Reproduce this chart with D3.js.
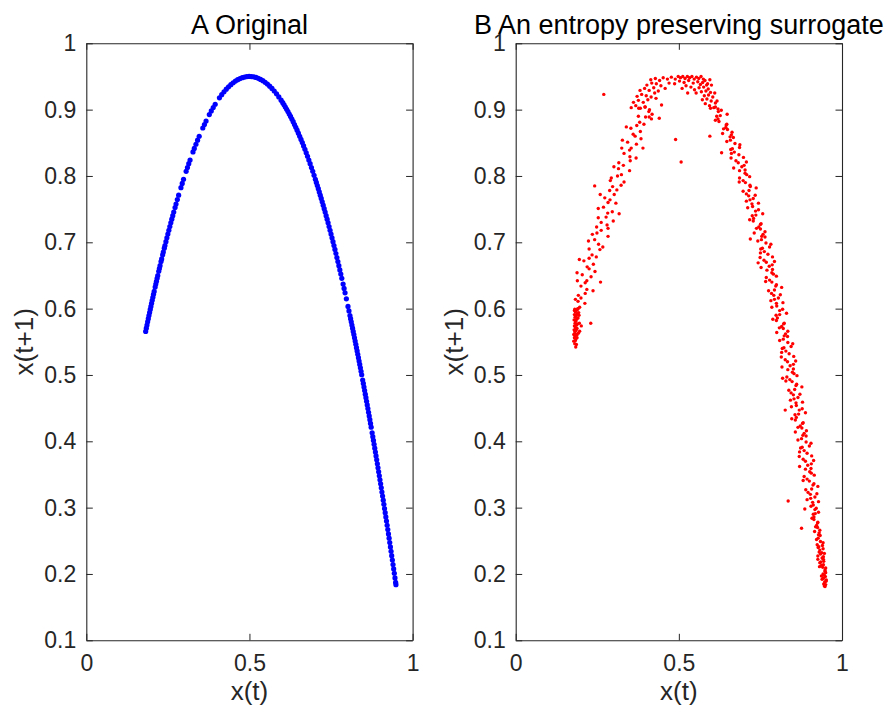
<!DOCTYPE html>
<html>
<head>
<meta charset="utf-8">
<script src="https://cdn.jsdelivr.net/npm/d3@7"></script>
<style>
  body { margin: 0; background: #fff; }
  text { font-family: "Liberation Sans", Arial, Helvetica, sans-serif; }
</style>
</head>
<body>
<div id="container"></div>
<script>
/* DATA */
const titles = ["A Original", "B An entropy preserving surrogate"];
const xLabel = "x(t)";
const yLabel = "x(t+1)";
const xTicks = [0, 0.5, 1];
const yTicks = [0.1, 0.2, 0.3, 0.4, 0.5, 0.6, 0.7, 0.8, 0.9, 1];

// panel A: points (x(t), x(t+1))
const originalPts = [
  [.182,.5657],[.184,.5705],[.186,.5753],[.188,.5801],[.190,.5848],[.192,.5895],[.194,.5942],[.196,.5988],[.198,.6034],[.200,.6080],
  [.202,.6125],[.204,.6171],[.206,.6215],[.208,.6260],[.211,.6326],[.213,.6370],[.215,.6413],[.217,.6457],[.219,.6499],[.222,.6563],
  [.224,.6605],[.226,.6647],[.229,.6709],[.231,.6750],[.234,.6811],[.236,.6852],[.239,.6911],[.241,.6951],[.244,.7010],[.247,.7068],
  [.250,.7125],[.253,.7182],[.256,.7238],[.259,.7293],[.262,.7348],[.265,.7401],[.268,.7455],[.272,.7525],[.275,.7576],[.279,.7644],
  [.283,.7711],[.290,.7824],[.294,.7887],[.298,.7949],[.306,.8070],[.310,.8128],[.314,.8185],[.318,.8241],[.327,.8363],[.331,.8415],
  [.336,.8478],[.341,.8539],[.346,.8599],[.357,.8723],[.362,.8776],[.367,.8828],[.377,.8925],[.383,.8980],[.389,.9032],[.395,.9081],
  [.408,.9178],[.415,.9225],[.422,.9269],[.429,.9308],[.436,.9344],[.443,.9377],[.450,.9405],[.457,.9430],[.464,.9451],[.471,.9468],
  [.478,.9482],[.485,.9491],[.492,.9498],[.499,.9500],
  [.506,.9499],[.513,.9494],[.520,.9485],[.527,.9472],[.534,.9456],[.541,.9436],[.548,.9412],[.555,.9385],[.562,.9354],[.569,.9319],
  [.576,.9281],[.583,.9238],[.590,.9192],[.597,.9142],[.602,.9105],[.606,.9073],[.610,.9040],[.614,.9006],[.618,.8971],[.622,.8934],
  [.626,.8897],[.630,.8858],[.634,.8818],[.638,.8776],[.642,.8734],[.646,.8690],[.650,.8645],[.654,.8599],[.658,.8551],[.662,.8503],
  [.666,.8453],[.670,.8402],[.674,.8350],[.678,.8296],[.682,.8241],[.686,.8185],[.690,.8128],[.694,.8070],[.698,.8010],[.702,.7949],
  [.705,.7903],[.708,.7856],[.711,.7808],[.714,.7760],[.717,.7711],[.720,.7661],[.723,.7610],[.726,.7559],[.729,.7507],[.732,.7455],
  [.735,.7401],[.738,.7348],[.741,.7293],[.744,.7238],[.747,.7182],[.750,.7125],[.753,.7068],[.756,.7010],[.759,.6951],[.762,.6892],
  [.765,.6831],[.768,.6771],[.771,.6709],[.774,.6647],[.777,.6584],[.780,.6521],[.783,.6457],[.787,.6370],[.790,.6304],[.793,.6238],
  [.797,.6148],[.802,.6034],[.805,.5965],[.808,.5895],[.810,.5848],[.812,.5801],[.814,.5753],[.816,.5705],[.818,.5657],[.820,.5609],
  [.822,.5560],[.824,.5511],[.826,.5462],[.828,.5412],[.830,.5362],[.832,.5311],[.834,.5261],[.836,.5210],[.838,.5159],[.840,.5107],
  [.842,.5055],[.844,.5003],[.847,.4924],[.849,.4872],[.851,.4818],[.853,.4765],[.855,.4711],[.857,.4657],[.859,.4603],[.861,.4548],
  [.863,.4493],[.865,.4437],[.867,.4382],[.869,.4326],[.871,.4270],[.873,.4213],[.876,.4128],[.878,.4070],[.880,.4013],[.882,.3955],
  [.884,.3897],[.886,.3838],[.888,.3779],[.890,.3720],[.892,.3661],[.894,.3601],[.896,.3541],[.898,.3481],[.900,.3420],[.902,.3359],
  [.904,.3298],[.906,.3236],[.908,.3174],[.910,.3112],[.912,.3050],[.914,.2987],[.916,.2924],[.918,.2860],[.920,.2797],[.922,.2733],
  [.924,.2669],[.926,.2604],[.928,.2539],[.930,.2474],[.932,.2408],[.934,.2342],[.936,.2276],[.938,.2210],[.940,.2143],[.942,.2076],
  [.944,.2009],[.946,.1941],[.948,.1873],[.949,.1839]
];

// panel B: surrogate scatter, read region by region
const surrogatePts = [
  // bottom-left cluster
  [.184,.542],[.181,.547],[.178,.551],[.183,.552],[.180,.556],[.185,.555],[.182,.559],[.178,.561],[.184,.562],[.187,.560],
  [.181,.565],[.179,.568],[.185,.567],[.183,.571],[.188,.570],[.180,.574],[.186,.575],[.182,.578],[.189,.577],[.184,.581],
  [.179,.583],[.187,.584],[.182,.587],[.191,.586],[.185,.589],[.180,.591],[.188,.592],[.183,.595],[.193,.594],[.186,.597],
  [.181,.599],[.190,.599],[.195,.578],[.201,.574],[.230,.578],[.196,.566],[.192,.563],[.186,.546],[.194,.590],[.188,.556],
  // left branch
  [.180,.597],[.196,.602],[.190,.600],[.191,.611],[.212,.608],[.183,.614],[.192,.620],[.213,.623],[.200,.616],
  [.237,.627],[.200,.634],[.218,.629],[.213,.639],[.218,.642],[.189,.642],[.204,.651],[.231,.648],[.188,.654],
  [.225,.660],[.243,.656],[.219,.663],[.195,.674],[.238,.667],[.209,.672],[.225,.676],[.234,.681],[.247,.678],
  [.258,.689],[.225,.690],[.267,.693],[.223,.702],[.254,.697],[.242,.704],[.249,.714],[.283,.709],[.235,.712],
  [.248,.723],[.283,.721],[.262,.718],[.299,.732],[.262,.730],[.280,.726],[.277,.738],[.282,.744],[.253,.737],
  [.269,.753],[.296,.746],[.253,.751],[.289,.764],[.307,.759],[.283,.760],[.259,.772],[.302,.772],[.273,.767],
  [.288,.778],[.297,.784],[.310,.779],[.323,.786],[.290,.793],[.332,.791],[.293,.797],[.324,.802],[.312,.800],
  [.315,.811],[.349,.808],[.301,.814],[.316,.820],[.351,.823],[.330,.816],[.369,.827],[.332,.834],[.350,.829],
  [.349,.839],[.354,.842],[.325,.842],[.343,.851],[.370,.848],[.327,.854],[.366,.860],[.384,.856],[.360,.863],
  [.339,.874],[.382,.867],[.353,.872],[.371,.876],[.380,.881],[.393,.878],[.409,.889],[.376,.890],[.418,.893],
  [.377,.902],[.408,.897],[.396,.904],[.260,.640],[.317,.743],[.242,.785],[.390,.842],
  // top, left half
  [.354,.903],[.368,.906],[.382,.902],[.397,.904],[.410,.900],[.361,.911],[.376,.914],[.391,.911],[.405,.915],[.372,.920],
  [.386,.923],[.400,.921],[.415,.919],[.430,.917],[.447,.907],[.426,.925],[.381,.929],[.395,.932],[.409,.929],[.423,.933],
  [.437,.928],[.402,.937],[.417,.940],[.431,.939],[.445,.936],[.458,.932],[.414,.945],[.428,.947],[.441,.944],[.452,.948],
  [.465,.946],[.477,.949],[.489,.946],[.470,.940],[.487,.939],[.270,.923],[.490,.855],[.507,.821],[.416,.886],[.398,.889],
  [.440,.887],
  // top, right half
  [.498,.950],[.505,.948],[.512,.950],[.519,.947],[.526,.950],[.533,.948],[.540,.950],[.547,.946],[.554,.949],[.561,.947],
  [.568,.950],[.575,.946],[.502,.943],[.516,.941],[.530,.944],[.544,.940],[.558,.942],[.566,.938],[.573,.941],[.580,.944],
  [.585,.937],[.562,.933],[.576,.934],[.590,.931],[.569,.927],[.583,.928],[.597,.926],[.578,.921],[.591,.922],[.604,.919],
  [.572,.915],[.586,.916],[.599,.913],[.612,.910],[.581,.909],[.594,.906],[.607,.903],[.620,.901],[.553,.925],[.588,.939],
  [.595,.945],[.600,.937],[.610,.925],[.522,.936],[.537,.934],[.510,.932],[.548,.930],[.527,.925],[.617,.913],
  // right branch
  [.597,.902],[.621,.897],[.612,.904],[.630,.899],[.616,.890],[.648,.893],[.620,.886],[.627,.891],
  [.647,.878],[.612,.884],[.645,.877],[.623,.882],[.649,.870],[.663,.866],[.644,.873],[.637,.871],
  [.667,.858],[.634,.864],[.657,.859],[.661,.862],[.647,.852],[.687,.847],[.658,.854],[.672,.849],
  [.659,.840],[.686,.843],[.670,.836],[.664,.841],[.698,.828],[.661,.834],[.660,.827],[.684,.832],
  [.682,.820],[.700,.816],[.675,.823],[.707,.821],[.686,.808],[.693,.814],[.703,.809],[.668,.812],
  [.708,.802],[.686,.797],[.703,.804],[.717,.799],[.704,.790],[.697,.793],[.718,.786],[.685,.791],
  [.715,.778],[.719,.784],[.697,.777],[.737,.782],[.714,.770],[.728,.766],[.707,.773],[.734,.771],
  [.724,.758],[.718,.764],[.744,.759],[.707,.762],[.711,.752],[.735,.747],[.726,.754],[.744,.749],
  [.725,.740],[.757,.743],[.729,.736],[.736,.741],[.752,.728],[.717,.734],[.750,.727],[.728,.732],
  [.750,.720],[.764,.716],[.745,.723],[.738,.721],[.764,.708],[.731,.714],[.754,.709],[.758,.712],
  [.742,.702],[.782,.697],[.753,.704],[.767,.699],[.751,.690],[.778,.693],[.762,.686],[.756,.691],
  [.787,.678],[.750,.684],[.749,.677],[.773,.682],[.768,.670],[.786,.666],[.761,.673],[.793,.671],
  [.770,.658],[.777,.664],[.787,.659],[.752,.662],[.790,.652],[.768,.647],[.785,.654],[.799,.649],
  [.785,.640],[.778,.643],[.799,.636],[.766,.641],[.793,.628],[.797,.634],[.775,.627],[.815,.632],
  [.791,.620],[.805,.616],[.784,.623],[.811,.621],[.799,.608],[.793,.614],[.819,.609],[.782,.612],
  [.785,.602],[.809,.597],[.800,.604],[.818,.599],[.798,.590],[.830,.593],[.802,.586],[.809,.591],
  [.823,.578],[.788,.584],[.821,.577],[.799,.582],[.820,.570],[.834,.566],[.815,.573],[.808,.571],
  [.833,.558],[.800,.564],[.823,.559],[.827,.562],[.809,.552],[.849,.547],[.820,.554],[.834,.549],
  [.817,.540],[.844,.543],[.828,.536],[.822,.541],[.852,.528],[.815,.534],[.814,.527],[.838,.532],
  [.833,.520],[.851,.516],[.826,.523],[.858,.521],[.834,.508],[.841,.514],[.851,.509],[.816,.512],
  [.853,.502],[.831,.497],[.848,.504],[.862,.499],[.847,.490],[.840,.493],[.861,.486],[.828,.491],
  [.855,.478],[.859,.484],[.837,.477],[.877,.482],[.851,.470],[.865,.466],[.844,.473],[.871,.471],
  [.859,.458],[.853,.464],[.879,.459],[.842,.462],[.845,.452],[.869,.447],[.860,.454],[.878,.449],
  [.856,.440],[.888,.443],[.860,.436],[.867,.441],[.881,.428],[.846,.434],[.879,.427],[.857,.432],
  [.877,.420],[.891,.416],[.872,.423],[.865,.421],[.890,.408],[.857,.414],[.880,.409],[.884,.412],
  [.865,.402],[.905,.397],[.876,.404],[.890,.399],[.873,.390],[.900,.393],[.884,.386],[.878,.391],
  [.907,.378],[.870,.384],[.869,.377],[.893,.382],[.888,.370],[.906,.366],[.881,.373],[.913,.371],
  [.888,.358],[.895,.364],[.905,.359],[.870,.362],[.906,.352],[.884,.347],[.901,.354],[.915,.349],
  [.900,.340],[.893,.343],[.914,.336],[.881,.341],[.907,.328],[.911,.334],[.889,.327],[.926,.332],
  [.903,.320],[.917,.316],[.896,.323],[.923,.321],[.910,.308],[.904,.314],[.928,.309],[.893,.312],
  [.905,.302],[.917,.297],[.912,.304],[.921,.299],[.912,.290],[.928,.293],[.914,.286],[.918,.291],
  [.926,.278],[.908,.284],[.925,.277],[.914,.282],[.925,.270],[.932,.266],[.922,.273],[.919,.271],
  [.933,.258],[.916,.264],[.928,.259],[.930,.262],[.922,.252],[.942,.247],[.927,.254],[.934,.249],
  [.835,.310],[.886,.298],[.876,.269],[.818,.495],[.743,.669],[.719,.705],[.595,.860],[.631,.835],[.826,.447],
  // bottom-right cluster
  [.927,.240],[.940,.243],[.932,.236],[.929,.241],[.942,.238],[.924,.244],
  [.926,.227],[.938,.232],[.934,.230],[.943,.226],[.930,.233],[.946,.231],
  [.935,.218],[.939,.224],[.944,.219],[.926,.222],[.943,.222],[.932,.217],
  [.943,.214],[.950,.209],[.941,.210],[.937,.213],[.948,.206],[.931,.211],
  [.946,.198],[.948,.204],[.937,.197],[.950,.202],[.942,.200],[.949,.196],
  [.942,.193],[.952,.191],[.947,.188],[.944,.194],[.951,.189],[.939,.192],
  [.946,.182],[.950,.184],[.944,.185],[.948,.181]
];

/* CONSTANTS AND GLOBALS */
const width = 885, height = 709;
const plotTop = 43.3, plotBottom = 640.3;
const panelLeft = [86.3, 515.7], panelWidth = 326.3;
const axisColor = "#262626";

var svg = d3.select("#container")
  .append("svg")
  .attr("width", width)
  .attr("height", height);

var y = d3.scaleLinear()
  .domain([0.1, 1])
  .range([plotBottom, plotTop]);

function drawPanel(i, pts, color, r) {
  var left = panelLeft[i], right = left + panelWidth;
  var x = d3.scaleLinear()
    .domain([0, 1])
    .range([left, right]);

  // points first, box on top
  svg.append("g")
    .selectAll("circle")
    .data(pts)
    .join("circle")
    .attr("cx", d => x(d[0]))
    .attr("cy", d => y(d[1]))
    .attr("r", r)
    .attr("fill", color);

  // bottom axis with labels
  var gb = svg.append("g")
    .attr("transform", "translate(0," + plotBottom + ")")
    .call(d3.axisBottom(x).tickValues(xTicks).tickFormat(d3.format("")).tickSizeInner(-6.5).tickSizeOuter(0).tickPadding(14.5));
  // top axis, ticks only
  var gt = svg.append("g")
    .attr("transform", "translate(0," + plotTop + ")")
    .call(d3.axisTop(x).tickValues(xTicks).tickFormat("").tickSizeInner(-6.5).tickSizeOuter(0));
  // left axis with labels
  var gl = svg.append("g")
    .attr("transform", "translate(" + left + ",0)")
    .call(d3.axisLeft(y).tickValues(yTicks).tickFormat(d3.format("")).tickSizeInner(-6.5).tickSizeOuter(0).tickPadding(10));
  // right axis, ticks only
  var gr = svg.append("g")
    .attr("transform", "translate(" + right + ",0)")
    .call(d3.axisRight(y).tickValues(yTicks).tickFormat("").tickSizeInner(-6.5).tickSizeOuter(0));

  [gb, gt, gl, gr].forEach(g => {
    g.attr("font-family", null).attr("font-size", null);
    g.selectAll("path.domain").attr("stroke", axisColor).attr("stroke-width", 1.1);
    g.selectAll(".tick line").attr("stroke", axisColor).attr("stroke-width", 1);
    g.selectAll(".tick text")
      .attr("fill", axisColor)
      .style("font-size", "23px");
  });

  // title
  svg.append("text")
    .attr("x", (left + right) / 2)
    .attr("y", 34)
    .attr("text-anchor", "middle")
    .style("font-size", "27px")
    .attr("fill", "#000")
    .text(titles[i]);

  // x label
  svg.append("text")
    .attr("x", (left + right) / 2)
    .attr("y", 700)
    .attr("text-anchor", "middle")
    .style("font-size", "26px")
    .attr("fill", axisColor)
    .text(xLabel);

  // y label
  svg.append("text")
    .attr("transform", "translate(" + (left - 53) + "," + ((plotTop + plotBottom) / 2) + ") rotate(-90)")
    .attr("text-anchor", "middle")
    .style("font-size", "26px")
    .attr("fill", axisColor)
    .text(yLabel);
}

drawPanel(0, originalPts, "#0000ff", 2.6);
drawPanel(1, surrogatePts, "#ff0000", 1.7);
</script>
</body>
</html>
